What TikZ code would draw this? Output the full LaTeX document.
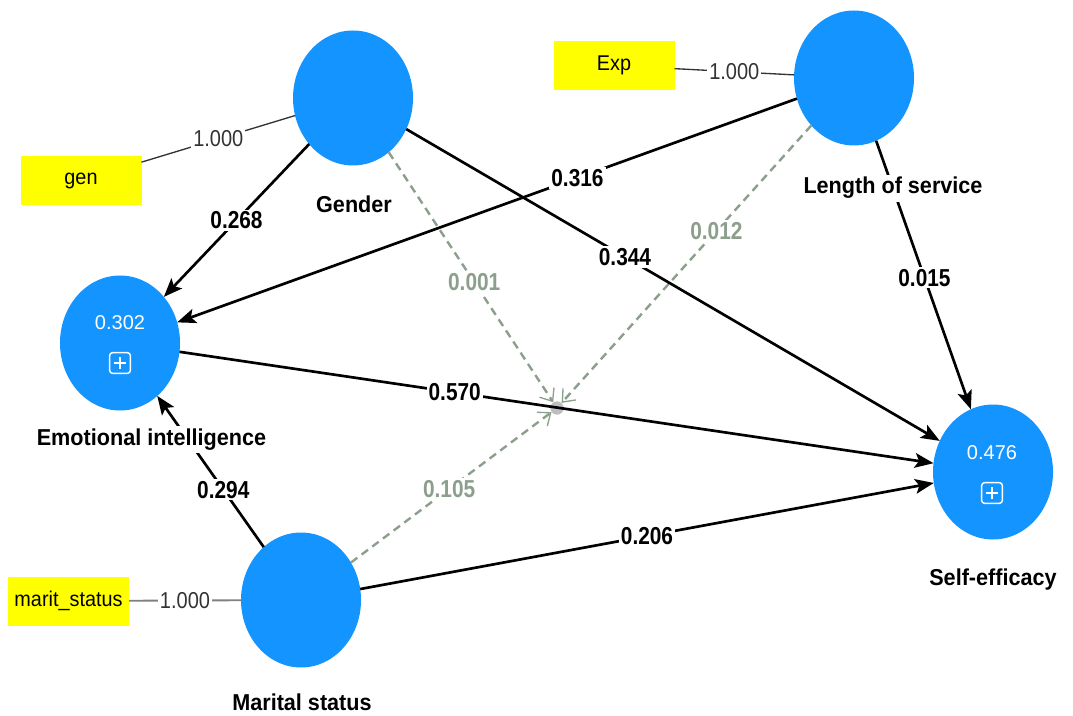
\documentclass[tikz,border=0pt]{standalone}
\usepackage{fontspec}
\setmainfont{Liberation Sans}
\newfontfamily\lblfont[FakeStretch=0.94]{Liberation Sans}
\newfontfamily\numfont[FakeStretch=0.85]{Liberation Sans}
\newfontfamily\loadfont[FakeStretch=0.87]{Liberation Sans}
\newfontfamily\indfont[FakeStretch=0.93]{Liberation Sans}
\usetikzlibrary{shapes.geometric,arrows.meta}
\definecolor{lvblue}{RGB}{20,148,255}
\definecolor{dashgreen}{RGB}{140,158,140}
\definecolor{dotgray}{RGB}{190,190,190}
\definecolor{indyellow}{RGB}{255,255,0}
\tikzset{
  lv/.style={ellipse, fill=lvblue, minimum width=90pt, minimum height=101.25pt, inner sep=0pt, outer sep=0pt},
  ind/.style={rectangle, fill=indyellow, minimum width=90.75pt, minimum height=36.75pt, inner sep=0pt, outer sep=0pt, font=\indfont\fontsize{16pt}{18pt}\selectfont},
  lvname/.style={font=\lblfont\bfseries\fontsize{17.25pt}{20pt}\selectfont, anchor=base, fill=white, inner sep=2pt},
  pathedge/.style={draw=black, line width=2pt, -{Stealth[length=14pt,width=11pt,inset=3pt]}},
  coef/.style={fill=white, inner sep=1.5pt, font=\numfont\bfseries\fontsize{18.4pt}{20pt}\selectfont},
  modedge/.style={draw=dashgreen, line width=1.8pt, dash pattern=on 6pt off 4pt, -{Straight Barb[length=8pt,width=13pt,line width=1pt]}},
  modcoef/.style={coef, text=dashgreen},
  loadedge/.style={draw=black!80, line width=1pt},
  loadcoef/.style={fill=white, inner sep=1.5pt, text=black!80, font=\loadfont\fontsize{17.25pt}{20pt}\selectfont},
  rsq/.style={text=white, font=\fontsize{15pt}{17pt}\selectfont, inner sep=0pt},
  plusbox/.style={draw=white, line width=1.1pt, rounded corners=2.2pt, minimum size=15.5pt, inner sep=0pt,
    path picture={\draw[white, line width=1.1pt]
      ([yshift=-3.5pt]path picture bounding box.north) -- ([yshift=3.5pt]path picture bounding box.south)
      ([xshift=3.5pt]path picture bounding box.west) -- ([xshift=-3.5pt]path picture bounding box.east);}},
  dotnode/.style={circle, fill=dotgray, minimum size=10pt, inner sep=0pt}
}
\begin{document}
\begin{tikzpicture}[x=0.75pt,y=-0.75pt]
\useasboundingbox (0,0) rectangle (1073,716);
% latent variables
\node[lv] (G) at (353,98) {};
\node[lv] (L) at (854,78) {};
\node[lv] (EI) at (120,343) {};
\node[lv] (SE) at (993,472) {};
\node[lv] (M) at (301,600) {};
% indicators
\node[ind] (gen) at (81,180.5) {gen};
\node[ind] (exp) at (614,65.5) {Exp};
\node[ind] (mar) at (68.5,601) {marit\_status};
% moderation point
\node[dotnode] (D) at (557,408) {};
% R squared
\node[rsq] (EIr) at (120,323) {0.302};
\node[plusbox] (EIp) at (120,363) {};
\node[rsq] (SEr) at (992,453) {0.476};
\node[plusbox] (SEp) at (992,493) {};
% loadings
\draw[loadedge] (gen) -- node[loadcoef]{1.000} (G);
\draw[loadedge] (exp) -- node[loadcoef]{1.000} (L);
\draw[loadedge, draw=black!50, line width=1.4pt] (mar) -- node[loadcoef]{1.000} (M);
% moderating effects
\draw[modedge] (G) -- node[modcoef,pos=0.52]{0.001} (D);
\draw[modedge] (L) -- node[modcoef,pos=0.38]{0.012} (D);
\draw[modedge] (M) -- node[modcoef,pos=0.49]{0.105} (D);
% structural paths
\draw[pathedge] (G) -- node[coef,pos=0.5]{0.268} (EI);
\draw[pathedge] (L) -- node[coef,pos=0.354]{0.316} (EI);
\draw[pathedge] (G) -- node[coef,pos=0.41]{0.344} (SE);
\draw[pathedge] (L) -- node[coef,pos=0.51]{0.015} (SE);
\draw[pathedge] (EI) -- node[coef,pos=0.365]{0.570} (SE);
\draw[pathedge] (M) -- node[coef,pos=0.5]{0.206} (SE);
\draw[pathedge] (M) -- node[coef,pos=0.38]{0.294} (EI);
% names (white background hides the lines behind them)
\node[lvname] (Gn) at (354,213) {Gender};
\node[lvname] (Ln) at (893,194) {Length of service};
\node[lvname] (EIn) at (151.5,445) {Emotional intelligence};
\node[lvname] (SEn) at (993,585) {Self-efficacy};
\node[lvname] (Mn) at (302,710) {Marital status};
\end{tikzpicture}
\end{document}
